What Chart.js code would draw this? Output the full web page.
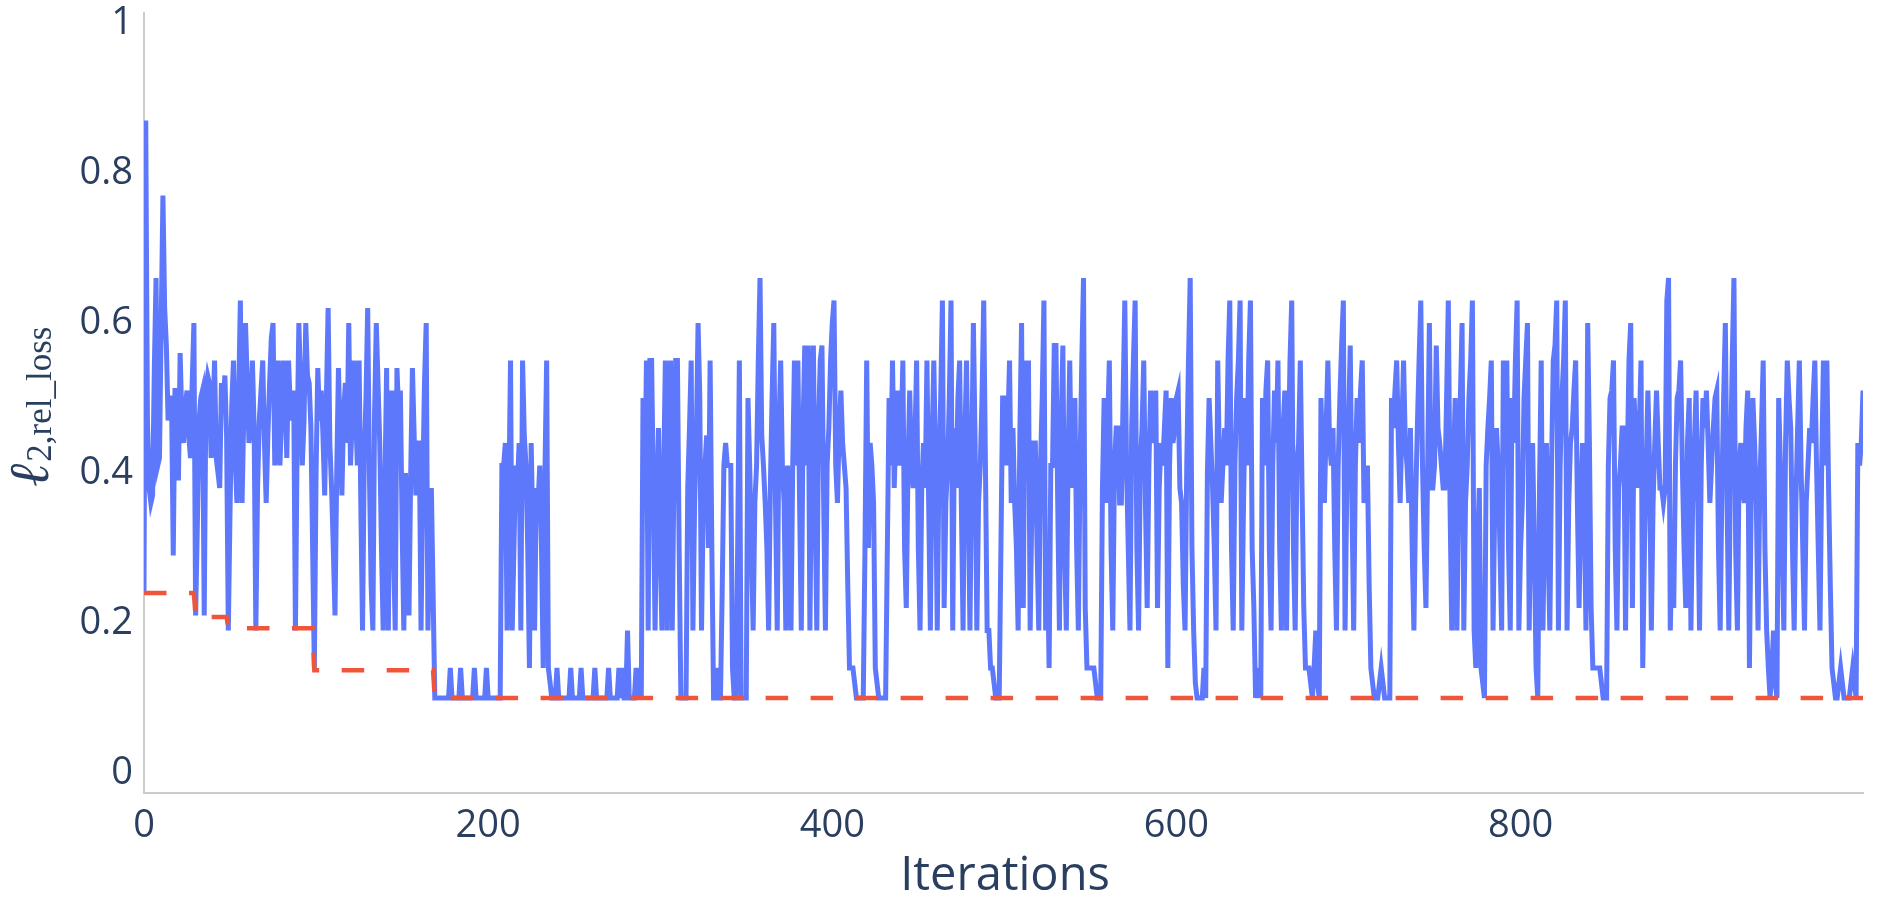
<!DOCTYPE html>
<html>
<head>
<meta charset="utf-8">
<script src="https://cdn.jsdelivr.net/npm/chart.js@4.4.1/dist/chart.umd.min.js"></script>
<style>
    html, body { margin: 0; padding: 0; background: #ffffff; }
    canvas { display: block; }
</style>
</head>
<body>
<canvas id="chartLoss" width="1881" height="913"></canvas>
<script>
// loss per iteration, in hundredths (0.24 -> 24), one row = 20 iterations
const lossPct = [
    24,87,47,38,36,37,54,66,41,42,60,77,62,57,47,50,50,29,51,51,
    39,56,47,44,49,51,45,42,52,60,21,33,47,50,51,21,51,53,52,42,
    47,55,42,40,38,52,49,53,45,19,35,49,55,42,36,50,63,36,48,60,
    52,44,48,55,46,19,38,47,51,55,44,36,45,52,58,60,41,47,55,41,
    48,55,50,42,55,49,47,51,19,44,60,52,41,47,60,53,52,46,30,14,
    40,54,47,51,45,37,50,62,44,38,30,21,40,54,45,37,48,52,44,60,
    41,47,55,48,41,55,36,19,42,50,62,40,25,19,48,60,52,44,30,19,
    38,54,19,45,51,30,19,54,48,51,33,19,40,30,21,40,54,45,37,44,
    44,19,38,52,60,19,30,38,24,10,10,10,10,10,10,10,10,10,14,10,
    10,10,10,10,14,10,10,10,10,10,10,10,14,10,10,10,10,10,10,14,
    10,10,10,10,10,10,10,10,41,41,44,19,36,55,19,30,41,38,44,19,
    55,45,41,30,14,44,32,19,38,36,41,30,14,40,55,14,12,10,10,10,
    14,10,10,10,10,10,10,10,14,10,10,10,10,10,14,10,10,10,10,10,
    10,10,14,10,10,10,10,10,10,10,14,10,10,10,10,10,14,10,14,10,
    10,19,10,10,10,10,14,10,14,10,50,36,55,19,55,55,38,19,36,46,
    30,19,40,55,19,50,55,19,40,55,55,30,10,10,10,10,38,46,55,19,
    36,45,60,50,19,36,41,45,30,55,30,10,10,14,10,10,24,41,44,41,
    41,41,14,10,10,30,55,10,10,10,10,50,41,30,19,36,41,55,66,45,
    41,36,30,19,38,50,60,36,19,46,55,41,36,19,41,30,19,41,55,41,
    55,36,19,46,57,41,57,19,44,57,36,19,46,55,57,36,19,41,46,55,
    60,63,41,36,46,51,44,41,38,25,14,14,14,12,10,10,10,10,10,30,
    55,30,44,41,36,14,12,10,10,10,10,10,30,50,41,55,38,46,51,41,
    44,55,30,22,41,51,41,38,44,55,30,19,38,44,38,55,36,19,44,55,
    41,19,41,50,63,22,36,41,50,63,19,46,38,50,55,36,19,44,55,38,
    19,41,60,44,19,36,41,50,63,41,19,19,14,14,12,10,10,10,30,50,
    50,41,46,55,36,46,36,30,19,45,60,22,55,41,55,19,36,44,44,30,
    19,41,50,63,19,30,14,41,41,57,57,36,19,46,57,30,19,41,55,38,
    44,50,30,19,41,55,66,22,14,14,14,14,14,12,10,10,10,38,50,36,
    46,55,30,19,41,46,46,36,36,50,63,41,30,19,46,55,63,30,19,41,
    46,55,36,22,41,51,44,46,51,22,38,44,41,46,51,14,41,50,44,46,
    50,51,38,36,25,19,41,55,66,30,19,12,10,10,10,10,14,10,40,50,
    44,38,30,19,55,41,36,41,46,41,55,63,30,19,41,50,55,63,19,36,
    50,41,55,63,30,22,10,12,14,10,50,41,51,55,30,19,41,51,44,55,
    30,19,46,51,19,41,55,63,30,19,41,44,55,38,22,14,14,14,12,10,
    14,19,12,10,50,41,36,46,55,44,41,46,30,19,41,50,57,63,19,38,
    46,57,36,19,41,50,44,51,55,36,38,41,25,14,12,10,10,10,12,14,
    12,10,10,10,10,50,46,51,55,44,36,46,55,44,41,36,46,30,19,36,
    46,55,63,41,30,22,41,60,38,38,41,57,46,44,41,38,38,50,63,36,
    19,41,50,19,36,50,60,19,36,41,50,55,63,19,14,30,38,14,12,10,
    41,46,50,55,19,36,46,41,30,19,55,41,55,30,19,50,44,55,63,19,
    30,36,50,55,60,19,38,44,30,14,10,38,55,19,36,44,30,19,41,55,
    57,63,19,41,50,55,63,19,36,44,46,51,55,36,22,36,44,36,19,60,
    44,22,14,14,14,14,14,12,10,10,10,41,50,51,55,30,19,38,41,46,
    46,19,41,55,60,22,50,44,38,46,55,14,30,41,51,41,19,36,44,51,
    44,38,38,36,38,63,66,19,30,22,41,50,51,55,41,30,22,44,50,19,
    36,44,51,36,19,41,50,46,51,44,36,41,46,50,51,30,19,38,50,60,
    36,19,41,55,66,30,19,41,44,38,36,46,51,14,36,50,44,36,19,38,
    46,55,30,19,14,10,14,19,12,10,50,41,30,19,44,55,50,46,30,19,
    36,46,55,41,30,19,36,41,46,44,50,55,41,30,19,41,55,41,55,38,
    25,14,12,10,10,12,14,12,10,10,10,10,12,14,12,10,44,41,44,51,
];

// best loss so far (dashed), only the corners of the steps
const bestIter = [0, 29, 30, 48, 49, 98, 99, 168, 169, 999];
const bestLoss = [0.24, 0.24, 0.208, 0.208, 0.193, 0.193, 0.137, 0.137, 0.1, 0.1];

const xTicks = [0, 200, 400, 600, 800];
const xTickLabels = ["0", "200", "400", "600", "800"];
const yTicks = [0, 0.2, 0.4, 0.6, 0.8, 1];
const yTickLabels = ["0", "0.2", "0.4", "0.6", "0.8", "1"];

const xTitle = "Iterations";
const yTitleMain = "ℓ";
const yTitleSub = "2,rel_loss";

document.addEventListener("DOMContentLoaded", function () {
    const ctx = document.getElementById("chartLoss").getContext("2d");
    const textColor = "#2a3f5f";
    const fontFamily = "'Open Sans', sans-serif";

    // judul sumbu digambar manual (subscript tidak didukung Chart.js)
    const axisTitles = {
        id: "axisTitles",
        afterDraw(chart) {
            const c = chart.ctx;
            c.save();
            c.fillStyle = textColor;
            c.textAlign = "center";
            c.textBaseline = "alphabetic";
            c.font = "47px " + fontFamily;
            c.fillText(xTitle, 1005, 890);

            c.translate(48, 487);
            c.rotate(-Math.PI / 2);
            c.textAlign = "left";
            c.font = "italic 56px 'Liberation Serif', serif";
            c.fillText(yTitleMain, 0, 0);
            const w = c.measureText(yTitleMain).width;
            c.font = "35px 'Liberation Serif', serif";
            c.fillText(yTitleSub, w + 2, 3);
            c.restore();
        },
    };

    new Chart(ctx, {
        type: "line",
        data: {
            datasets: [
                {
                    label: "best",
                    data: bestIter.map((x, i) => ({ x: x, y: bestLoss[i] })),
                    borderColor: "#ef553b",
                    borderWidth: 4.5,
                    borderDash: [22.5, 22.5],
                    borderCapStyle: "butt",
                },
                {
                    label: "loss",
                    data: lossPct.map((v, i) => ({ x: i, y: v / 100 })),
                    borderColor: "#5e78fb",
                    borderWidth: 5,
                },
            ],
        },
        options: {
            responsive: false,
            animation: false,
            events: [],
            layout: { padding: { top: 13, right: 18, left: 0, bottom: 0 } },
            elements: {
                point: { radius: 0 },
                line: { tension: 0, fill: false },
            },
            plugins: {
                legend: { display: false },
                tooltip: { enabled: false },
            },
            scales: {
                x: {
                    type: "linear",
                    min: 0,
                    max: 999,
                    afterFit(scale) {
                        scale.height = 120;
                        scale.paddingLeft = 0;
                        scale.paddingRight = 0;
                    },
                    afterBuildTicks(scale) { scale.ticks = xTicks.map((v) => ({ value: v })); },
                    grid: { display: false, drawTicks: false },
                    border: { color: "#cccccc", width: 2 },
                    ticks: {
                        padding: 10,
                        color: textColor,
                        font: { family: fontFamily, size: 38 },
                        maxRotation: 0,
                        autoSkip: false,
                        callback: (value) => xTickLabels[xTicks.indexOf(value)],
                    },
                },
                y: {
                    min: -0.02667,
                    max: 1.01333,
                    afterFit(scale) {
                        scale.width = 144;
                        scale.paddingTop = 0;
                        scale.paddingBottom = 0;
                    },
                    afterBuildTicks(scale) { scale.ticks = yTicks.map((v) => ({ value: v })); },
                    grid: { display: false, drawTicks: false },
                    border: { color: "#cccccc", width: 2 },
                    ticks: {
                        padding: 11,
                        color: textColor,
                        font: { family: fontFamily, size: 38 },
                        autoSkip: false,
                        callback: (value) => yTickLabels[yTicks.indexOf(value)],
                    },
                },
            },
        },
        plugins: [axisTitles],
    });
});
</script>
</body>
</html>
